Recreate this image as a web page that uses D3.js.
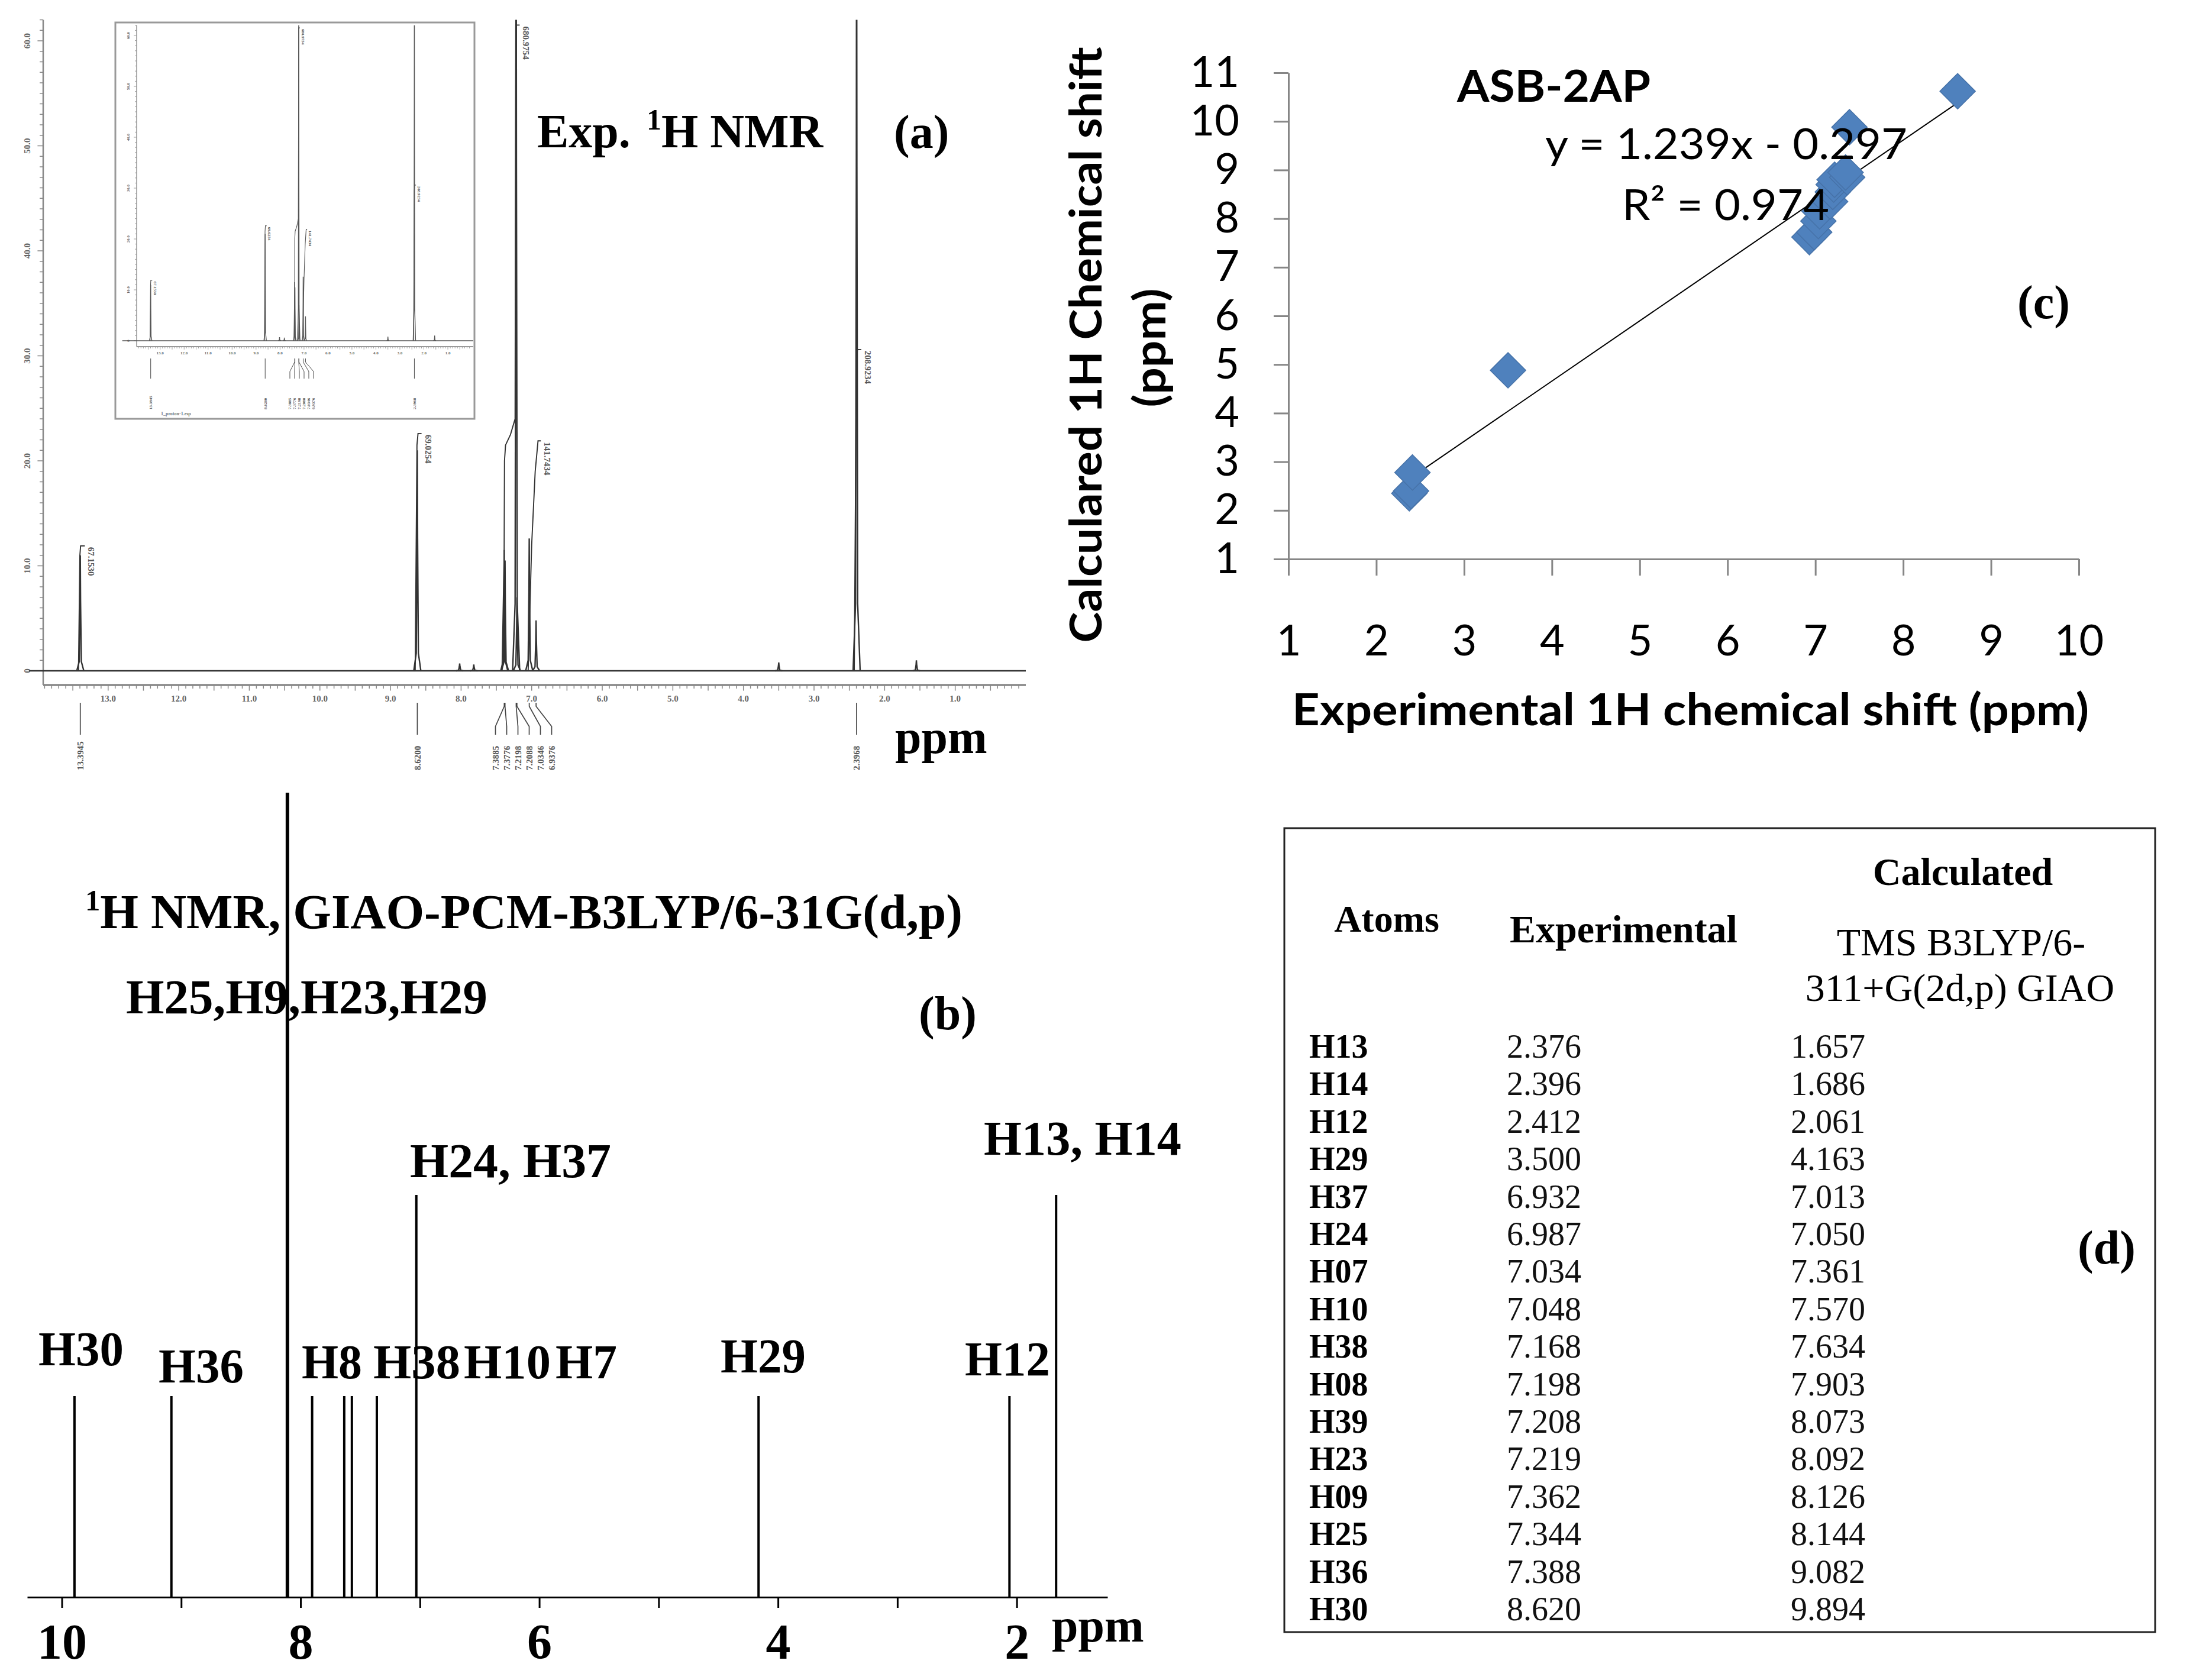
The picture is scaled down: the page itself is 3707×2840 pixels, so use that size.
<!DOCTYPE html>
<html>
<head>
<meta charset="utf-8">
<script src="https://cdn.jsdelivr.net/npm/d3@7/dist/d3.min.js"></script>
<style>
  body { margin: 0; background: #fff; }
</style>
</head>
<body>
<script>
// ---------- data ----------
// (a) experimental 1H NMR spectrum, peaks (ppm, intensity)
var expPeakPpm    = [13.3945, 8.62, 8.02, 7.82, 7.3885, 7.3776, 7.2198, 7.2088, 7.0346, 6.9376, 3.50, 2.3968, 1.55];
var expPeakHeight = [11.0, 21.0, 0.7, 0.6, 11.5, 10.5, 80, 7.0, 12.6, 4.8, 0.8, 80, 1.0];
var integralCurves = [
  [[13.42, 0], [13.40, 11.0], [13.39, 11.9], [13.33, 11.9]],
  [[8.65, 0], [8.625, 21.5], [8.61, 22.6], [8.56, 22.6]],
  [[7.42, 0], [7.39, 11], [7.385, 20], [7.37, 21.5], [7.30, 22.5], [7.235, 24], [7.225, 61.5], [7.17, 61.5]],
  [[7.05, 0], [7.00, 12.0], [6.95, 19.0], [6.91, 21.9], [6.87, 21.9]],
  [[2.43, 0], [2.40, 29.5], [2.385, 30.6], [2.33, 30.6]]
];
var integralLabels = ["67.1530", "69.0254", "680.9754", "141.7434", "208.9234"];
var pickPpm = [13.3945, 8.6200, 7.3885, 7.3776, 7.2198, 7.2088, 7.0346, 6.9376, 2.3968];
var pickCluster = [false, false, true, true, true, true, true, true, false];
var expYLabels = [0, 10, 20, 30, 40, 50, 60];

// (b) calculated stick spectrum
var calcStickPpm   = [9.894, 9.082, 8.11, 7.903, 7.634, 7.570, 7.361, 7.03, 4.163, 2.061, 1.67];
var calcStickCount = [1, 1, 4, 1, 1, 1, 1, 2, 1, 1, 2];
var calcTicks = [10, 9, 8, 7, 6, 5, 4, 3, 2];
var calcTickLabels = [10, 8, 6, 4, 2];
var calcLabels = ["H30", "H36", "H8", "H38", "H10", "H7", "H29", "H12", "H24, H37", "H13, H14", "H25,H9,H23,H29"];

// (c) correlation
var expShift  = [2.376, 2.396, 2.412, 3.500, 6.932, 6.987, 7.034, 7.048, 7.168, 7.198, 7.208, 7.219, 7.362, 7.344, 7.388, 8.620];
var plotCalc  = [2.35, 2.40, 2.78, 4.88, 7.62, 7.72, 7.95, 8.15, 8.35, 8.55, 8.70, 8.80, 8.85, 8.95, 9.88, 10.62];
var fitSlope = 1.239, fitIntercept = -0.297, fitR2 = 0.974;
var corrXTicks = [1, 2, 3, 4, 5, 6, 7, 8, 9, 10];
var corrYTicks = [1, 2, 3, 4, 5, 6, 7, 8, 9, 10, 11];

// (d) table
var atomNames = ["H13", "H14", "H12", "H29", "H37", "H24", "H07", "H10", "H38", "H08", "H39", "H23", "H09", "H25", "H36", "H30"];
var calcShift = [1.657, 1.686, 2.061, 4.163, 7.013, 7.050, 7.361, 7.570, 7.634, 7.903, 8.073, 8.092, 8.126, 8.144, 9.082, 9.894];

// ---------- setup ----------
var serif = "'Liberation Serif', 'Times New Roman', serif";
var sans = "Lato, 'Open Sans', sans-serif";

var svg = d3.select("body").append("svg")
            .attr("width", 3707)
            .attr("height", 2840)
            .style("background", "#fff");
var defs = svg.append("defs");

function label(g, txt, x, y, size, opts) {
  opts = opts || {};
  var t = g.append("text")
           .attr("x", x)
           .attr("y", y)
           .attr("font-family", opts.family || serif)
           .attr("font-size", size)
           .attr("font-weight", opts.weight || "bold")
           .attr("fill", opts.fill || "#000")
           .attr("text-anchor", opts.anchor || "start")
           .text(txt);
  if (opts.length) t.attr("textLength", opts.length).attr("lengthAdjust", "spacingAndGlyphs");
  return t;
}

// ---------- NMR spectrum (panel a + inset) ----------
function drawNmr(g, x, y, o) {
  var line = d3.line()
               .x(function(d){ return x(d[0]); })
               .y(function(d){ return y(d[1]); });
  var top = y.domain()[1];
  var x0 = x.range()[0], x1 = x.range()[1];

  defs.append("clipPath").attr("id", o.id)
      .append("rect")
      .attr("x", x0 - 30).attr("y", y(top))
      .attr("width", x1 - x0 + 60).attr("height", o.axisY - y(top));

  // y axis, dotted ticks
  g.append("line")
   .attr("x1", x0).attr("x2", x0)
   .attr("y1", o.axisY).attr("y2", y(top))
   .attr("stroke", o.axisColor).attr("stroke-width", o.axisWidth);
  g.selectAll(".ytick-" + o.id)
   .data(d3.range(0, Math.floor(top) + 1))
   .enter()
   .append("line")
   .attr("x1", x0)
   .attr("x2", function(d){ return x0 - (d % 10 == 0 ? o.tick * 1.6 : o.tick); })
   .attr("y1", function(d){ return y(d); })
   .attr("y2", function(d){ return y(d); })
   .attr("stroke", o.axisColor).attr("stroke-width", o.axisWidth * 0.6);
  g.selectAll(".ylab-" + o.id)
   .data(expYLabels)
   .enter()
   .append("text")
   .attr("transform", function(d){
     return "translate(" + (x0 - o.ylabOffset) + "," + y(d) + ") rotate(-90)";
   })
   .attr("text-anchor", "middle")
   .attr("font-family", serif)
   .attr("font-weight", "bold")
   .attr("font-size", o.font)
   .attr("fill", "#666")
   .text(function(d){ return d == 0 ? "0" : d.toFixed(1); });

  // x axis
  g.append("line")
   .attr("x1", x0).attr("x2", x1)
   .attr("y1", o.axisY).attr("y2", o.axisY)
   .attr("stroke", o.axisColor).attr("stroke-width", o.axisWidth * 1.4);
  var xt = d3.range(1, Math.floor(x.domain()[0] * 10) + 1).map(function(i){ return i / 10; });
  g.selectAll(".xtick-" + o.id)
   .data(xt)
   .enter()
   .append("line")
   .attr("x1", function(d){ return x(d); })
   .attr("x2", function(d){ return x(d); })
   .attr("y1", o.axisY)
   .attr("y2", function(d, i){ return o.axisY + ((i + 1) % 5 == 0 ? o.tick * 1.6 : o.tick); })
   .attr("stroke", o.axisColor).attr("stroke-width", o.axisWidth * 0.6);
  g.selectAll(".xlab-" + o.id)
   .data(d3.range(1, Math.floor(x.domain()[0]) + 1))
   .enter()
   .append("text")
   .attr("x", function(d){ return x(d); })
   .attr("y", o.axisY + o.xlabOffset)
   .attr("text-anchor", "middle")
   .attr("font-family", serif)
   .attr("font-weight", "bold")
   .attr("font-size", o.font)
   .attr("fill", "#666")
   .text(function(d){ return d.toFixed(1); });

  // spectrum
  var spec = g.append("g").attr("clip-path", "url(#" + o.id + ")");
  spec.append("path")
      .attr("d", line([[x.domain()[0] + o.baseExtend, 0], [x.domain()[1], 0]]))
      .attr("fill", "none").attr("stroke", o.color).attr("stroke-width", o.lineWidth);
  expPeakPpm.forEach(function(p, i){
    var h = expPeakHeight[i];
    spec.append("path")
        .attr("d", line([[p + 0.05, 0], [p + 0.015, h * 0.08], [p + 0.004, h * 0.6], [p, h],
                         [p - 0.004, h * 0.6], [p - 0.015, h * 0.08], [p - 0.05, 0]]))
        .attr("fill", "none").attr("stroke", o.color).attr("stroke-width", o.lineWidth);
  });
  // integral curves + values
  integralCurves.forEach(function(c, i){
    spec.append("path")
        .attr("d", line(c))
        .attr("fill", "none").attr("stroke", o.color).attr("stroke-width", o.lineWidth * 0.8);
    var end = c[c.length - 1];
    g.append("text")
     .attr("transform", "translate(" + (x(end[0]) + o.font * 0.4) + "," + (y(end[1]) + 2) + ") rotate(90)")
     .attr("font-family", serif)
     .attr("font-weight", "bold")
     .attr("font-size", o.font)
     .attr("fill", "#555")
     .text(integralLabels[i]);
  });

  // peak picking below the axis
  var clusterX = pickPpm.filter(function(d, i){ return pickCluster[i]; }).map(x);
  var cMid = d3.mean(clusterX) + o.pickSpacing * 0.5;
  var ci = 0;
  pickPpm.forEach(function(p, i){
    var px = x(p), lx = px;
    if (pickCluster[i]) {
      lx = cMid + (ci - 2.5) * o.pickSpacing;
      ci++;
    }
    g.append("path")
     .attr("d", "M" + px + "," + o.pickY0 + "L" + px + "," + (o.pickY0 + 6) +
                "L" + lx + "," + o.pickY1 + "L" + lx + "," + o.pickY2)
     .attr("fill", "none").attr("stroke", "#444").attr("stroke-width", o.lineWidth * 0.7);
    g.append("text")
     .attr("transform", "translate(" + (lx + o.font * 0.35) + "," + o.pickLabelY + ") rotate(-90)")
     .attr("font-family", serif)
     .attr("font-weight", "bold")
     .attr("font-size", o.font)
     .attr("fill", "#555")
     .text(d3.format(".4f")(p));
  });
}

// panel (a) main
var gA = svg.append("g");
var xA = d3.scaleLinear().domain([13.92, 0]).range([73, 1734]);
var yA = d3.scaleLinear().domain([0, 62]).range([1134, 1134 - 62 * 17.75]);
drawNmr(gA, xA, yA, {
  id: "clipA", axisY: 1158, axisColor: "#888", axisWidth: 2.5, tick: 6,
  font: 15, ylabOffset: 22, xlabOffset: 28, baseExtend: 0.2,
  color: "#333", lineWidth: 2.4,
  pickY0: 1188, pickY1: 1228, pickY2: 1242, pickLabelY: 1302, pickSpacing: 19
});

// inset
var gI = svg.append("g");
gI.append("rect")
  .attr("x", 195).attr("y", 38).attr("width", 607).attr("height", 670)
  .attr("fill", "#fff").attr("stroke", "#999").attr("stroke-width", 3);
var xI = d3.scaleLinear().domain([13.98, -0.06]).range([231, 800]);
var yI = d3.scaleLinear().domain([0, 62]).range([576, 576 - 62 * 8.6]);
drawNmr(gI, xI, yI, {
  id: "clipI", axisY: 586, axisColor: "#999", axisWidth: 1.6, tick: 3,
  font: 7, ylabOffset: 12, xlabOffset: 13, baseExtend: 0.6,
  color: "#555", lineWidth: 1.4,
  pickY0: 606, pickY1: 628, pickY2: 640, pickLabelY: 692, pickSpacing: 8
});
label(gI, "1_proton-1.esp", 272, 702, 8, {fill: "#777"});

label(gA, "Exp. ", 908, 249, 80);
var tE = label(gA, "", 1093, 249, 80);
tE.append("tspan").attr("font-size", 50).attr("dy", -30).text("1");
tE.append("tspan").attr("dy", 30).text("H NMR");
label(gA, "(a)", 1511, 250, 80);
label(gA, "ppm", 1513, 1273, 80);

// ---------- panel (b): calculated stick spectrum ----------
var gB = svg.append("g");
var xB = d3.scaleLinear().domain([10.29, 1.24]).range([46, 1872]);
var yB = d3.scaleLinear().domain([0, 1]).range([2700, 2360]);

gB.selectAll(".stick")
  .data(calcStickPpm)
  .enter()
  .append("line")
  .attr("class", "stick")
  .attr("x1", function(d){ return xB(d); })
  .attr("x2", function(d){ return xB(d); })
  .attr("y1", yB(0))
  .attr("y2", function(d, i){ return yB(calcStickCount[i]); })
  .attr("stroke", "#000")
  .attr("stroke-width", function(d, i){ return calcStickCount[i] > 2 ? 6 : 4; });

var axB = gB.append("g")
            .attr("transform", "translate(0," + yB(0) + ")")
            .call(d3.axisBottom(xB)
                    .tickValues(calcTicks)
                    .tickSize(18)
                    .tickSizeOuter(0)
                    .tickPadding(26)
                    .tickFormat(function(d){ return calcTickLabels.indexOf(d) >= 0 ? d : ""; }));
axB.selectAll("path, line").attr("stroke", "#000").attr("stroke-width", 3);
axB.selectAll("text")
   .attr("font-family", serif).attr("font-weight", "bold")
   .attr("font-size", 84).attr("fill", "#000");
label(gB, "ppm", 1778, 2775, 80);

var tB = label(gB, "", 144, 1569, 82, {length: 1483});
tB.append("tspan").attr("font-size", 50).attr("dy", -30).text("1");
tB.append("tspan").attr("dy", 30).text("H NMR, GIAO-PCM-B3LYP/6-31G(d,p)");
label(gB, "(b)", 1553, 1740, 80);

var calcLabelPos = [[65, 2308], [268, 2337], [510, 2330], [631, 2330], [784, 2330], [939, 2330],
                    [1218, 2320], [1631, 2325], [693, 1990], [1663, 1952], [213, 1713]];
var calcLabelLen = [144, 144, 102, 147, 147, 104, 144, 144, 340, 334, 611];
calcLabels.forEach(function(t, i){
  label(gB, t, calcLabelPos[i][0], calcLabelPos[i][1], 82, {length: calcLabelLen[i]});
});

// ---------- panel (c): correlation ----------
var gC = svg.append("g");
var xC = d3.scaleLinear().domain([1, 10]).range([2178, 3514]);
var yC = d3.scaleLinear().domain([1, 11]).range([945, 123]);

var axCx = gC.append("g")
             .attr("transform", "translate(0," + yC(1) + ")")
             .call(d3.axisBottom(xC).tickValues(corrXTicks).tickSize(28).tickSizeOuter(0).tickPadding(84));
var axCy = gC.append("g")
             .attr("transform", "translate(" + xC(1) + ",0)")
             .call(d3.axisLeft(yC).tickValues(corrYTicks).tickSize(25).tickSizeOuter(0).tickPadding(58));
gC.selectAll(".domain, .tick line").attr("stroke", "#868686").attr("stroke-width", 3);
gC.selectAll(".tick text")
  .attr("font-family", sans).attr("font-size", 72).attr("fill", "#000");

// trend line
var fitX = [d3.min(expShift), d3.max(expShift)];
gC.append("line")
  .attr("x1", xC(fitX[0])).attr("y1", yC(fitSlope * fitX[0] + fitIntercept))
  .attr("x2", xC(fitX[1])).attr("y2", yC(fitSlope * fitX[1] + fitIntercept))
  .attr("stroke", "#000").attr("stroke-width", 2);

gC.selectAll(".pt")
  .data(expShift)
  .enter()
  .append("path")
  .attr("class", "pt")
  .attr("transform", function(d, i){ return "translate(" + xC(d) + "," + yC(plotCalc[i]) + ")"; })
  .attr("d", "M0,-30L30,0L0,30L-30,0Z")
  .attr("fill", "#4F81BD")
  .attr("stroke", "#4672a8")
  .attr("stroke-width", 1.5);

label(gC, "ASB-2AP", 2463, 172, 74, {family: sans, length: 327});
label(gC, "y = " + fitSlope + "x - " + Math.abs(fitIntercept), 2612, 269, 72, {family: sans, weight: "normal", length: 612});
label(gC, "R\u00b2 = " + fitR2, 2742, 372, 72, {family: sans, weight: "normal", length: 350});
label(gC, "(c)", 3410, 538, 80);

label(gC, "Experimental 1H chemical shift (ppm)", 2184, 1226, 74, {family: sans, length: 1347});
gC.append("text")
  .attr("transform", "translate(1862,583) rotate(-90)")
  .attr("text-anchor", "middle")
  .attr("font-family", sans).attr("font-weight", "bold").attr("font-size", 74)
  .attr("textLength", 1007).attr("lengthAdjust", "spacingAndGlyphs")
  .text("Calculared 1H Chemical shift");
gC.append("text")
  .attr("transform", "translate(1970,588) rotate(-90)")
  .attr("text-anchor", "middle")
  .attr("font-family", sans).attr("font-weight", "bold").attr("font-size", 74)
  .attr("textLength", 201).attr("lengthAdjust", "spacingAndGlyphs")
  .text("(ppm)");

// ---------- panel (d): table ----------
var gD = svg.append("g");
gD.append("rect")
  .attr("x", 2171).attr("y", 1400).attr("width", 1472).attr("height", 1359)
  .attr("fill", "none").attr("stroke", "#222").attr("stroke-width", 3);

label(gD, "Atoms", 2344, 1575, 64, {anchor: "middle"});
label(gD, "Experimental", 2552, 1593, 66);
label(gD, "Calculated", 3318, 1496, 66, {anchor: "middle"});
label(gD, "TMS B3LYP/6-", 3315, 1615, 66, {anchor: "middle", weight: "normal"});
label(gD, "311+G(2d,p) GIAO", 3313, 1692, 66, {anchor: "middle", weight: "normal"});
label(gD, "(d)", 3512, 2136, 80);

var rowY = d3.scaleLinear().domain([0, atomNames.length - 1]).range([1788, 2739]);
atomNames.forEach(function(a, i){
  label(gD, a, 2213, rowY(i), 56);
  label(gD, expShift[i].toFixed(3), 2547, rowY(i), 56, {weight: "normal", fill: "#111"});
  label(gD, calcShift[i].toFixed(3), 3027, rowY(i), 56, {weight: "normal", fill: "#111"});
});
</script>
</body>
</html>
